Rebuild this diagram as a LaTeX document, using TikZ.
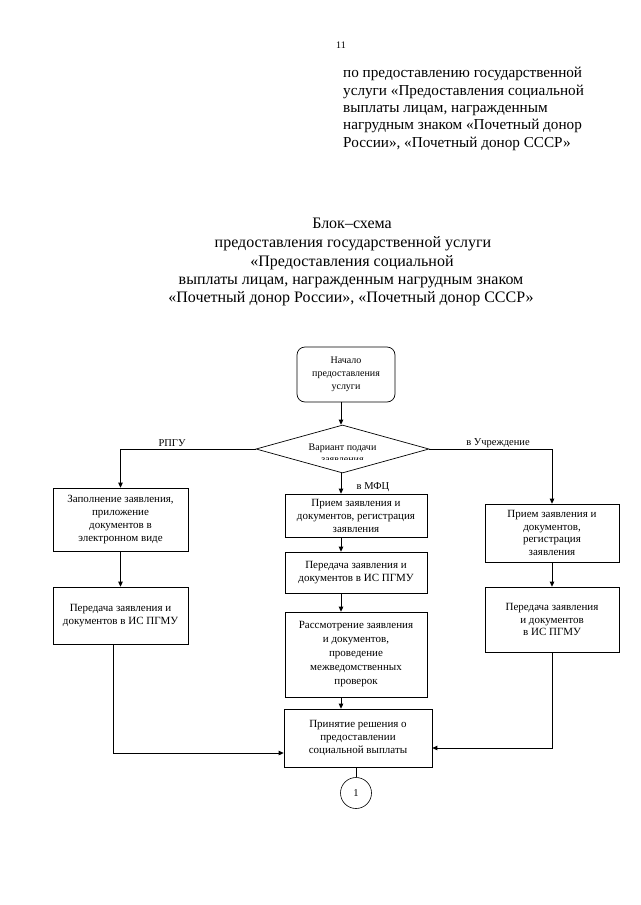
\documentclass[tikz,border=0pt]{standalone}
\usepackage{fontspec}
\setmainfont{Liberation Serif}
\usetikzlibrary{arrows.meta,shapes.geometric,calc}
\begin{document}
\begin{tikzpicture}[x=1pt,y=-1pt,
  box/.style={draw, line width=0.7pt, inner sep=0pt, align=center, font=\fontsize{11}{13}\selectfont},
  arr/.style={line width=1pt, -{Triangle[length=5pt,width=4.5pt]}},
  ln/.style={line width=0.8pt},
  lbl/.style={font=\fontsize{10.5}{12}\selectfont, inner sep=0pt},
  hdr/.style={font=\fontsize{15.2}{17.5}\selectfont, inner sep=0pt},
  ttl/.style={font=\fontsize{16}{18.5}\selectfont, inner sep=0pt}]
\useasboundingbox (0,0) rectangle (640,905);
\fill[white] (0,0) rectangle (640,905);

% page number and header
\node[lbl, font=\fontsize{10}{12}\selectfont] (pg) at (341,45) {11};
\node[hdr, anchor=base west] (h1) at (343,77) {по предоставлению государственной};
\node[hdr, anchor=base west] (h2) at (343,95) {услуги «Предоставления социальной};
\node[hdr, anchor=base west] (h3) at (343,112) {выплаты лицам, награжденным};
\node[hdr, anchor=base west] (h4) at (343,129) {нагрудным знаком «Почетный донор};
\node[hdr, anchor=base west] (h5) at (343,147) {России», «Почетный донор СССР»};

% title
\node[ttl, anchor=base] (t1) at (352,228) {Блок–схема};
\node[ttl, anchor=base] (t2) at (353,247) {предоставления государственной услуги};
\node[ttl, anchor=base] (t3) at (352,266) {«Предоставления социальной};
\node[ttl, anchor=base] (t4) at (351,284) {выплаты лицам, награжденным нагрудным знаком};
\node[ttl, anchor=base] (t5) at (351,302) {«Почетный донор России», «Почетный донор СССР»};

% flowchart nodes
\node[box, rounded corners=8pt, minimum width=98pt, minimum height=55pt, font=\fontsize{10}{13}\selectfont] (start) at (346,374.5) {Начало\\предоставления\\услуги};
\node[draw, line width=0.7pt, diamond, inner sep=0pt, minimum width=173pt, minimum height=48pt] (dia) at (342.5,449) {};
\begin{scope}
  \clip (250,430) rectangle (440,459.5);
  \node[lbl, align=center, font=\fontsize{10}{12}\selectfont] (dtext) at (342.5,453) {Вариант подачи\\заявления};
\end{scope}

\node[box, minimum width=135pt, minimum height=63pt] (l1) at (120.5,519.5) {Заполнение заявления,\\приложение\\документов в\\электронном виде};
\node[box, minimum width=135pt, minimum height=57pt] (l2) at (120.5,615.5) {Передача заявления и\\документов в ИС ПГМУ};

\node[box, minimum width=142pt, minimum height=43pt] (c1) at (356,515.5) {Прием заявления и\\документов, регистрация\\заявления};
\node[box, minimum width=142pt, minimum height=41pt] (c2) at (356,572.5) {Передача заявления и\\документов в ИС ПГМУ};
\node[box, minimum width=142pt, minimum height=85pt, font=\fontsize{11}{14}\selectfont] (c3) at (356,654.5) {Рассмотрение заявления\\и документов,\\проведение\\межведомственных\\проверок};
\node[box, minimum width=148pt, minimum height=58pt] (c4) at (358,738) {Принятие решения о\\предоставлении\\социальной выплаты};

\node[box, minimum width=134pt, minimum height=58pt, font=\fontsize{11}{12.5}\selectfont] (r1) at (552,533) {Прием заявления и\\документов,\\регистрация\\заявления};
\node[box, minimum width=134pt, minimum height=65pt, font=\fontsize{11}{12.5}\selectfont] (r2) at (552,619.5) {Передача заявления\\и документов\\в ИС ПГМУ};

\node[draw, circle, line width=0.6pt, minimum size=31pt, inner sep=0pt, font=\fontsize{10.5}{12}\selectfont] (fin) at (356,793) {1};

% helper coordinates
\coordinate (axc) at (341,0);
\coordinate (lx2) at (113,0);
\coordinate (ly) at (0,753);
\coordinate (ry) at (0,748);

% connectors
\draw[arr] (start.south -| axc) -- (dia.north -| axc);
\draw[arr] (dia.west) -| (l1.north);
\draw[arr] (dia.east) -| (r1.north);
\draw[arr] (dia.south -| axc) -- (c1.north -| axc);
\draw[arr] (l1.south) -- (l2.north);
\draw[arr] (r1.south) -- (r2.north);
\draw[arr] (c1.south -| axc) -- (c2.north -| axc);
\draw[arr] (c2.south -| axc) -- (c3.north -| axc);
\draw[arr] (c3.south -| axc) -- (c4.north -| axc);
\draw[arr] (l2.south -| lx2) |- (c4.west |- ly);
\draw[arr] (r2.south) |- (c4.east |- ry);
\draw[ln] (c4.south -| fin) -- (fin.north);

% branch labels
\node[lbl] (lab1) at (172,443) {РПГУ};
\node[lbl] (lab2) at (498,443) {в Учреждение};
\node[lbl] (lab3) at (373,487) {в МФЦ};
\end{tikzpicture}
\end{document}
